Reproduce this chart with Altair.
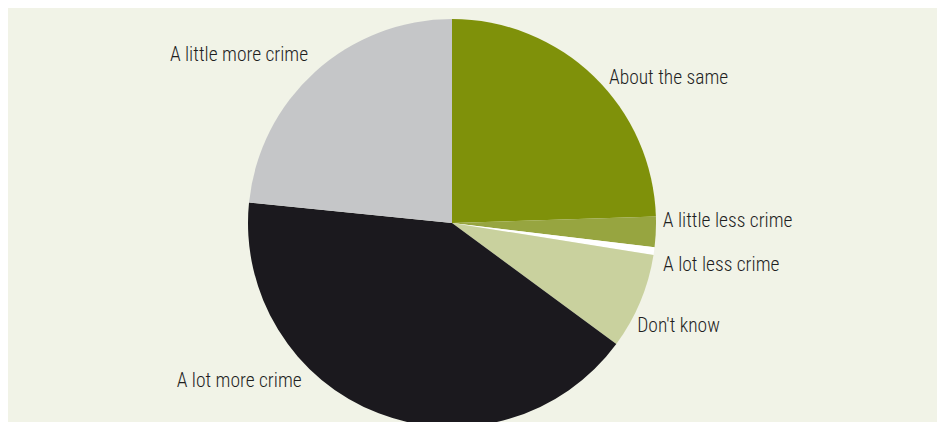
import altair as alt
import pandas as pd

categories = ["About the same", "A little less crime", "A lot less crime",
              "Don't know", "A lot more crime", "A little more crime"]
shares = [24.5, 2.4, 0.6, 7.6, 41.5, 23.4]
colors = ["#7f910a", "#97a540", "#ffffff", "#c9d19e", "#1b191e", "#c5c6c8"]

df = pd.DataFrame({"category": categories, "share": shares,
                   "idx": list(range(len(categories)))})
total = sum(shares)
theta_scale = alt.Scale(domain=[0, total])

R = 204
FONT = "Roboto Condensed, Liberation Sans Narrow, Liberation Sans, sans-serif"

base = alt.Chart(df)

pie = base.mark_arc(outerRadius=R).encode(
    theta=alt.Theta("share:Q", stack=True, scale=theta_scale),
    color=alt.Color("category:N", scale=alt.Scale(domain=categories, range=colors), legend=None),
    order=alt.Order("idx:Q"),
)

# label placement style: (align, dx, dy) relative to slice midpoint on the rim
label_style = {
    "About the same": ("left", 15, 7.5),
    "A little less crime": ("left", 7, -5),
    "A lot less crime": ("left", 9, 20),
    "Don't know": ("left", -3, 30),
    "A lot more crime": ("right", -77, -26),
    "A little more crime": ("right", -7, -11),
}

texts = []
for cat in categories:
    align, dx, dy = label_style[cat]
    t = (
        base.transform_window(cum="sum(share)", sort=[alt.SortField("idx")])
        .transform_calculate(mid="datum.cum - datum.share / 2")
        .transform_filter(alt.datum.category == cat)
        .mark_text(radius=R, align=align, baseline="alphabetic", dx=dx, dy=dy,
                   font=FONT, fontSize=19.5, fontWeight=300, color="#1f1f1f")
        .encode(theta=alt.Theta("mid:Q", scale=theta_scale), text="category:N")
    )
    texts.append(t)

chart = (
    alt.layer(pie, *texts)
    .properties(
        width=888, height=390,
        padding={"left": 0, "top": 20, "right": 41, "bottom": 4},
        autosize=alt.AutoSizeParams(type="none"),
        background="#f1f3e7",
    )
    .configure_view(strokeWidth=0)
)

chart.save("out.html", embed_options={"renderer": "svg", "actions": False})
